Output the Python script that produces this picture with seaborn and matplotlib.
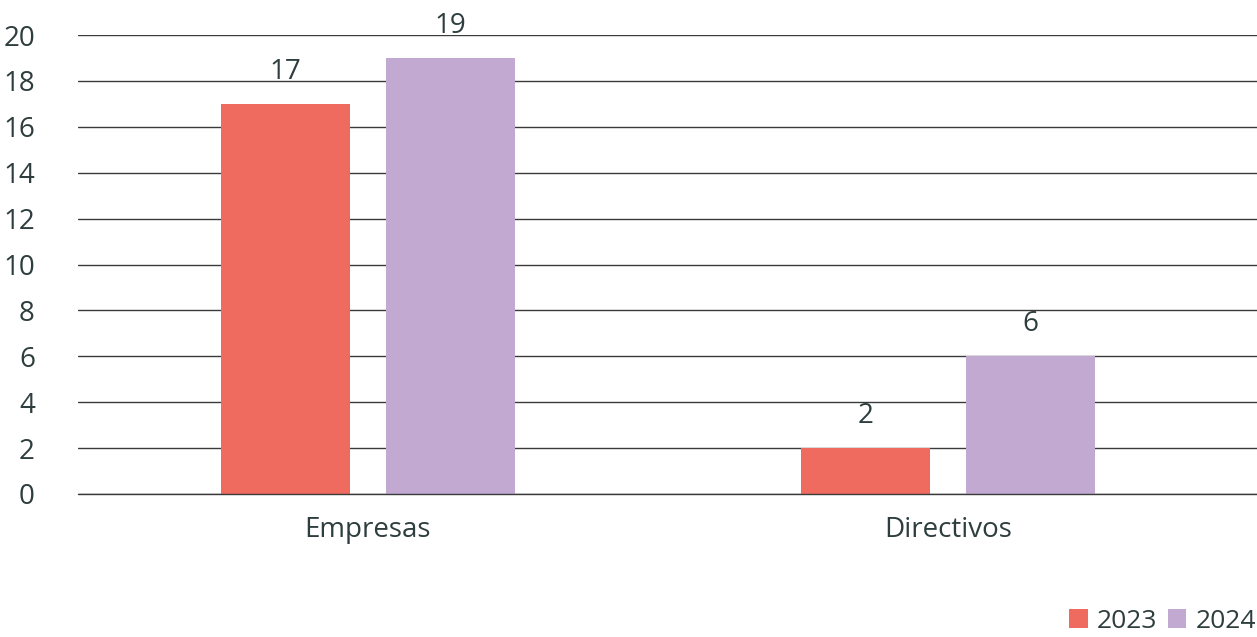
import matplotlib
matplotlib.use("Agg")
import matplotlib.pyplot as plt
import seaborn as sns
import pandas as pd
from matplotlib.patches import Patch

categories = ["Empresas", "Directivos"]
years = ["2023", "2024"]
values_2023 = [17, 2]
values_2024 = [19, 6]
yticks = [0, 2, 4, 6, 8, 10, 12, 14, 16, 18, 20]

colors = {"2023": "#F06B5F", "2024": "#C2A9D1"}
text_color = "#2E3D3D"

df = pd.DataFrame({
    "categoria": categories * 2,
    "año": [years[0]] * len(categories) + [years[1]] * len(categories),
    "valor": values_2023 + values_2024,
})

sns.set_theme(style="white")
plt.rcParams["font.family"] = ["Open Sans", "DejaVu Sans"]

fig = plt.figure(figsize=(12.57, 6.37), dpi=100)
ax = fig.add_axes([78 / 1257, (637 - 494) / 637, 1179 / 1257, 459 / 637])

sns.barplot(data=df, x="categoria", y="valor", hue="año", palette=colors,
            width=0.57, gap=0.22, saturation=1, linewidth=0, edgecolor="none",
            ax=ax, legend=False, zorder=3)

ax.set_ylim(0, 20)
ax.set_xlim(-0.5, 1.533)
ax.set_yticks(yticks)
ax.set_yticklabels([str(t) for t in yticks])
ax.yaxis.grid(True, color="#3a3a3a", linewidth=1.0, zorder=0)
ax.set_axisbelow(True)
for s in ax.spines.values():
    s.set_visible(False)
ax.axhline(0, color="#3a3a3a", linewidth=1.0, zorder=4, clip_on=False)
ax.set_xlabel("")
ax.set_ylabel("")
ax.tick_params(axis="y", labelsize=20, colors=text_color, pad=31, length=0)
ax.tick_params(axis="x", labelsize=20, colors=text_color, pad=16, length=0)
for lbl in ax.get_yticklabels():
    lbl.set_horizontalalignment("right")

for cont in ax.containers:
    ax.bar_label(cont, fontsize=20, color=text_color, padding=13)

handles = [Patch(facecolor=colors[y], edgecolor="none", label=y) for y in years]
fig.legend(handles=handles, loc="lower right", bbox_to_anchor=(1.018, -0.032),
           ncol=2, frameon=False, fontsize=19, handlelength=0.7, handleheight=0.7,
           handletextpad=0.35, columnspacing=0.4, labelcolor=text_color)

fig.savefig("out.png", dpi=100)
